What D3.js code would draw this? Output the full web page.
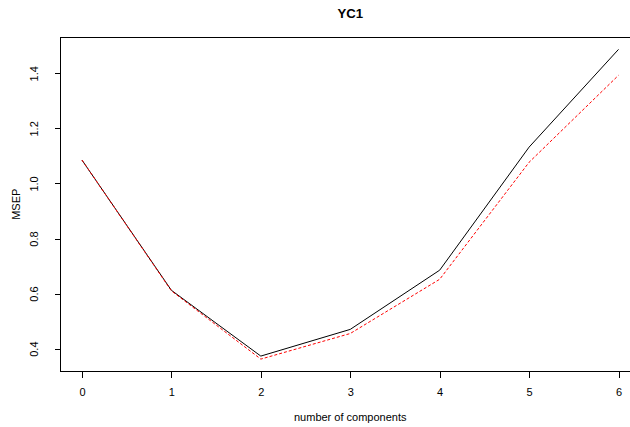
<!DOCTYPE html>
<html>
<head>
<meta charset="utf-8">
<script src="https://cdn.jsdelivr.net/npm/d3@7"></script>
<style>
  html, body { margin: 0; padding: 0; background: #fff; }
  svg { display: block; font-family: "Liberation Sans", Arial, Helvetica, sans-serif; }
</style>
</head>
<body>
<svg id="chart" width="630" height="427"></svg>
<script>
// ---- data ----
const components = [0, 1, 2, 3, 4, 5, 6];
const msepCV    = [1.085, 0.612, 0.373, 0.470, 0.685, 1.132, 1.487];
const msepAdjCV = [1.085, 0.610, 0.362, 0.455, 0.652, 1.077, 1.393];
const xTicks = [0, 1, 2, 3, 4, 5, 6];
const yTicks = [0.4, 0.6, 0.8, 1.0, 1.2, 1.4];
const yTickLabels = ["0.4", "0.6", "0.8", "1.0", "1.2", "1.4"];
const title = "YC1";
const xLabel = "number of components";
const yLabel = "MSEP";

// ---- layout ----
const svg = d3.select("#chart");
const box = { left: 60.5, right: 640, top: 37, bottom: 371.5 };

function padded(ext) {
  const d = ext[1] - ext[0];
  return [ext[0] - 0.04 * d, ext[1] + 0.04 * d];
}
const xExt = d3.extent(components);
const yExt = d3.extent(msepCV.concat(msepAdjCV));
const x = d3.scaleLinear().domain(padded(xExt)).range([box.left, box.right]);
const y = d3.scaleLinear().domain(padded(yExt)).range([box.bottom, box.top]);

// ---- lines ----
const line = d3.line().x(d => x(d[0])).y(d => y(d[1]));
svg.append("path")
  .datum(components.map((c, i) => [c, msepCV[i]]))
  .attr("d", line).attr("fill", "none").attr("stroke", "#000").attr("stroke-width", 1);
svg.append("path")
  .datum(components.map((c, i) => [c, msepAdjCV[i]]))
  .attr("d", line).attr("fill", "none").attr("stroke", "#ff0000").attr("stroke-width", 1)
  .attr("stroke-dasharray", "3,2");

// ---- box ----
svg.append("rect")
  .attr("x", box.left).attr("y", box.top)
  .attr("width", box.right - box.left).attr("height", box.bottom - box.top)
  .attr("fill", "none").attr("stroke", "#000").attr("stroke-width", 1)
  .attr("shape-rendering", "crispEdges");

// ---- axes ----
const xAxis = d3.axisBottom(x).tickValues(xTicks).tickFormat(d3.format("d"))
  .tickSizeInner(6).tickSizeOuter(0).tickPadding(11);
const gx = svg.append("g").attr("transform", `translate(0,${box.bottom})`).call(xAxis);
gx.select(".domain").attr("d", `M${x(xTicks[0])},0H${x(xTicks[xTicks.length-1])}`).attr("shape-rendering", "crispEdges");
gx.selectAll(".tick line").attr("shape-rendering", "crispEdges");
gx.selectAll("text").attr("font-size", 11).attr("fill", "#000");
gx.attr("font-family", null);

const yAxis = d3.axisLeft(y).tickValues(yTicks).tickFormat((d, i) => yTickLabels[i])
  .tickSizeInner(6).tickSizeOuter(0);
const gy = svg.append("g").attr("transform", `translate(${box.left},0)`).call(yAxis);
gy.select(".domain").attr("d", `M0,${y(yTicks[0])}V${y(yTicks[yTicks.length-1])}`).attr("shape-rendering", "crispEdges");
gy.selectAll(".tick line").attr("shape-rendering", "crispEdges");
gy.attr("font-family", null);
gy.selectAll(".tick text")
  .attr("x", null).attr("dy", null)
  .attr("transform", "translate(-23,0) rotate(-90)")
  .attr("text-anchor", "middle")
  .attr("font-size", 11).attr("fill", "#000");

// ---- labels ----
svg.append("text").attr("x", (box.left + box.right) / 2).attr("y", 18)
  .attr("text-anchor", "middle").attr("font-weight", "bold").attr("font-size", 13.2)
  .text(title);
svg.append("text").attr("x", (box.left + box.right) / 2).attr("y", 421)
  .attr("text-anchor", "middle").attr("font-size", 11).text(xLabel);
svg.append("text")
  .attr("transform", `translate(20,${(box.top + box.bottom) / 2}) rotate(-90)`)
  .attr("text-anchor", "middle").attr("font-size", 11).text(yLabel);
</script>
</body>
</html>
